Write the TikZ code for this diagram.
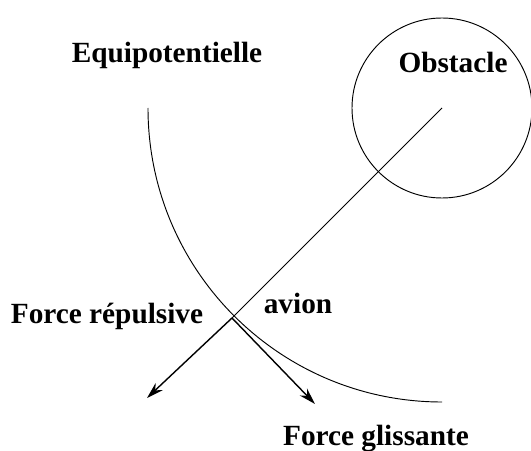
\documentclass[tikz,border=0pt]{standalone}
\usepackage{fontspec}
\setmainfont{Liberation Serif}
\usepackage{tikz}
\usetikzlibrary{arrows.meta}

\begin{document}
\begin{tikzpicture}[
        >={Stealth[length=0.5cm, width=0.3cm]},
        every node/.style={font=\fontsize{25}{30}\selectfont\bfseries},
        label/.style={anchor=base, inner sep=0pt},
        thinline/.style={line width=0.8pt},
        force/.style={->, line width=1.2pt}
    ]
        \useasboundingbox (0,0) rectangle (15.93,13.5);

        % Nodes
        \node (obst) [draw, circle, thinline, minimum size=5.4cm, inner sep=0pt] at (13.26,10.26) {};
        \node (obstlbl) [label] at (13.59,11.31) {Obstacle};
        \node (equilbl) [label] at (5.01,11.61) {Equipotentielle};
        \node (avionlbl) [label] at (8.94,4.11) {avion};
        \node (replbl) [label] at (3.21,3.81) {Force répulsive};
        \node (glilbl) [label] at (11.28,0.15) {Force glissante};
        \coordinate (avion) at (6.96,3.96);
        \coordinate (rep) at (4.41,1.56);
        \coordinate (gli) at (9.45,1.38);
        \coordinate (equi) at (4.44,10.26);

        % Lines
        \draw [thinline] (obst.center) -- (avion);
        \draw [thinline] (equi) arc[start angle=180, end angle=270, radius=8.82];

        % Forces
        \draw [force] (avion) -- (rep);
        \draw [force] (avion) -- (gli);
    \end{tikzpicture}
\end{document}
